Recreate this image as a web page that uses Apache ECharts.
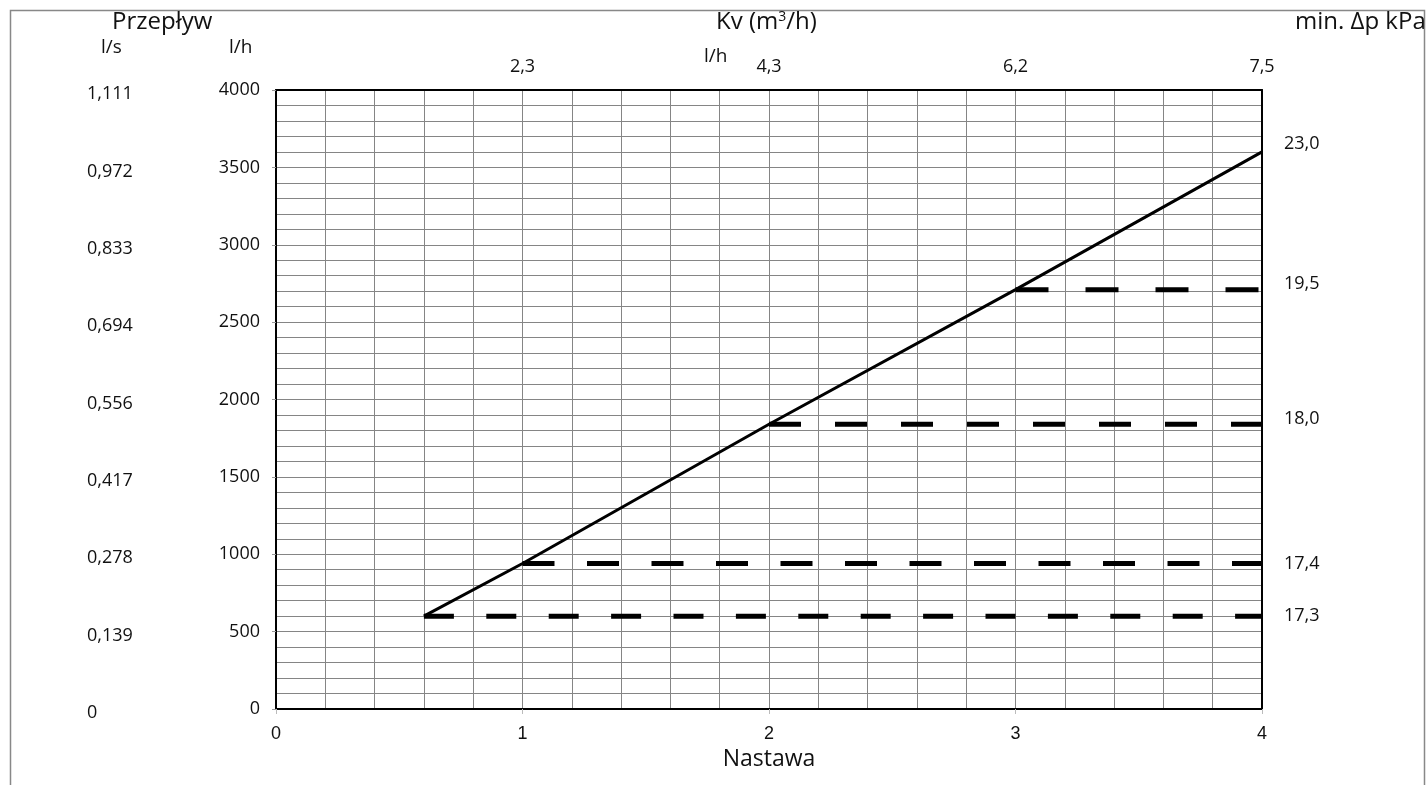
<!DOCTYPE html>
<html><head><meta charset="utf-8">
<script src="https://cdn.jsdelivr.net/npm/echarts@6/dist/echarts.min.js"></script>
<style>html,body{margin:0;padding:0;background:#fff}#c{width:1427px;height:785px}</style>
</head><body><div id="c"></div>
<script>
// ---- data ----
const settings = [0.6, 1, 2, 3, 4];              // Nastawa
const flowLh = [600, 940, 1840, 2710, 3600];      // Przepływ l/h
const dashStart = [0.6, 1, 2, 3];
const dashFlow = [600, 940, 1840, 2710];
const dashEnd = 4;
const dpLabels = ['17,3', '17,4', '18,0', '19,5'];
const dpTop = '23,0';
const kvLabels = ['', '2,3', '4,3', '6,2', '7,5'];
const lhLabels = ['0', '500', '1000', '1500', '2000', '2500', '3000', '3500', '4000'];
const lsLabels = ['0', '0,139', '0,278', '0,417', '0,556', '0,694', '0,833', '0,972', '1,111'];

// ---- styles ----
const dashPatterns = [[30, 32.4], [32, 32.5], [32, 34], [33, 37]];
const dpOffsets = [[0, 0], [0, 0], [0, -5], [0, -6]];
const TXT = '"Open Sans", "Noto Sans", sans-serif';
const GRID = '#858585';

const chart = echarts.init(document.getElementById('c'));

const series = [{
  type: 'line', xAxisIndex: 0, yAxisIndex: 0,
  data: settings.map((s, i) => [s, flowLh[i]]),
  symbol: 'none', lineStyle: { color: '#000', width: 3 },
  label: { show: false },
  endLabel: { show: true, formatter: () => dpTop, color: '#111', fontFamily: TXT, fontSize: 18, distance: 22, offset: [0, -8] },
  z: 5, silent: true
}];
dashStart.forEach((s, i) => {
  series.push({
    type: 'line', xAxisIndex: 0, yAxisIndex: 0,
    data: [[s, dashFlow[i]], [dashEnd, dashFlow[i]]],
    symbol: 'none',
    lineStyle: { color: '#000', width: 5, type: dashPatterns[i], cap: 'butt' },
    endLabel: { show: true, formatter: () => dpLabels[i], color: '#111', fontFamily: TXT, fontSize: 18, distance: 22, offset: dpOffsets[i] },
    z: 4, silent: true
  });
});

chart.setOption({
  animation: false,
  backgroundColor: '#fff',
  grid: { left: 276, right: 165, top: 90, bottom: 76, outerBoundsMode: 'none', containLabel: false },
  xAxis: [{
    type: 'value', position: 'bottom', min: 0, max: 4, interval: 1,
    name: 'Nastawa', nameLocation: 'middle', nameGap: 38,
    nameTextStyle: { fontFamily: TXT, fontSize: 23, color: '#111' },
    axisLine: { show: true, onZero: false, lineStyle: { color: '#000', width: 2 } },
    axisTick: { show: true, length: 5, lineStyle: { color: '#bbb' } },
    axisLabel: { fontFamily: '"Liberation Sans", Arial, sans-serif', fontSize: 18, color: '#111', margin: 16 },
    splitLine: { show: true, lineStyle: { color: GRID, width: 1 } },
    minorTick: { show: false, splitNumber: 5 },
    minorSplitLine: { show: true, lineStyle: { color: GRID, width: 1 } }
  }, {
    type: 'value', position: 'top', min: 0, max: 4, interval: 1,
    axisLine: { show: true, onZero: false, lineStyle: { color: '#000', width: 2 } },
    axisTick: { show: false },
    axisLabel: { fontFamily: TXT, fontSize: 18, color: '#111', margin: 14, formatter: (v) => kvLabels[Math.round(v)] },
    splitLine: { show: false }
  }],
  yAxis: [{
    type: 'value', position: 'left', min: 0, max: 4000, interval: 500,
    axisLine: { show: true, onZero: false, lineStyle: { color: '#000', width: 2 } },
    axisTick: { show: true, length: 4, lineStyle: { color: '#999' } },
    axisLabel: { fontFamily: TXT, fontSize: 18, color: '#111', margin: 16, formatter: (v) => lhLabels[Math.round(v / 500)] },
    splitLine: { show: true, lineStyle: { color: GRID, width: 1 } },
    minorTick: { show: false, splitNumber: 5 },
    minorSplitLine: { show: true, lineStyle: { color: GRID, width: 1 } }
  }, {
    type: 'value', position: 'left', min: 0, max: 4000, interval: 500,
    axisLine: { show: false }, axisTick: { show: false }, splitLine: { show: false },
    axisLabel: { fontFamily: TXT, fontSize: 18, color: '#111', margin: 189, align: 'left', verticalAlign: 'top', lineHeight: 8,
      formatter: (v) => lsLabels[Math.round(v / 500)] }
  }, {
    type: 'value', position: 'right', min: 0, max: 4000, interval: 500,
    axisLine: { show: true, onZero: false, lineStyle: { color: '#000', width: 2 } },
    axisTick: { show: false }, axisLabel: { show: false }, splitLine: { show: false }
  }],
  graphic: [
    { type: 'polyline', shape: { points: [[10.5, 800], [10.5, 10.5], [1424.5, 10.5], [1424.5, 800]] }, style: { stroke: '#888', lineWidth: 1.5, fill: null }, silent: true },
    { type: 'text', left: 112, top: 10, style: { text: 'Przepływ', font: '24px ' + TXT, fill: '#111' } },
    { type: 'text', left: 101, top: 38, style: { text: 'l/s', font: '19px ' + TXT, fill: '#111' } },
    { type: 'text', left: 229, top: 38, style: { text: 'l/h', font: '19px ' + TXT, fill: '#111' } },
    { type: 'text', left: 704, top: 47, style: { text: 'l/h', font: '19px ' + TXT, fill: '#111' } },
    { type: 'text', left: 716, top: 10, style: { rich: { a: { font: '24px ' + TXT, fill: '#111' }, s: { font: '14px ' + TXT, fill: '#111', verticalAlign: 'top', padding: [0, 0, 10, 0] } }, text: '{a|Kv (m}{s|3}{a|/h)}' } },
    { type: 'text', left: 1295, top: 10, style: { text: 'min. Δp kPa', font: '24px ' + TXT, fill: '#111' } }
  ],
  series: series
});
</script></body></html>
